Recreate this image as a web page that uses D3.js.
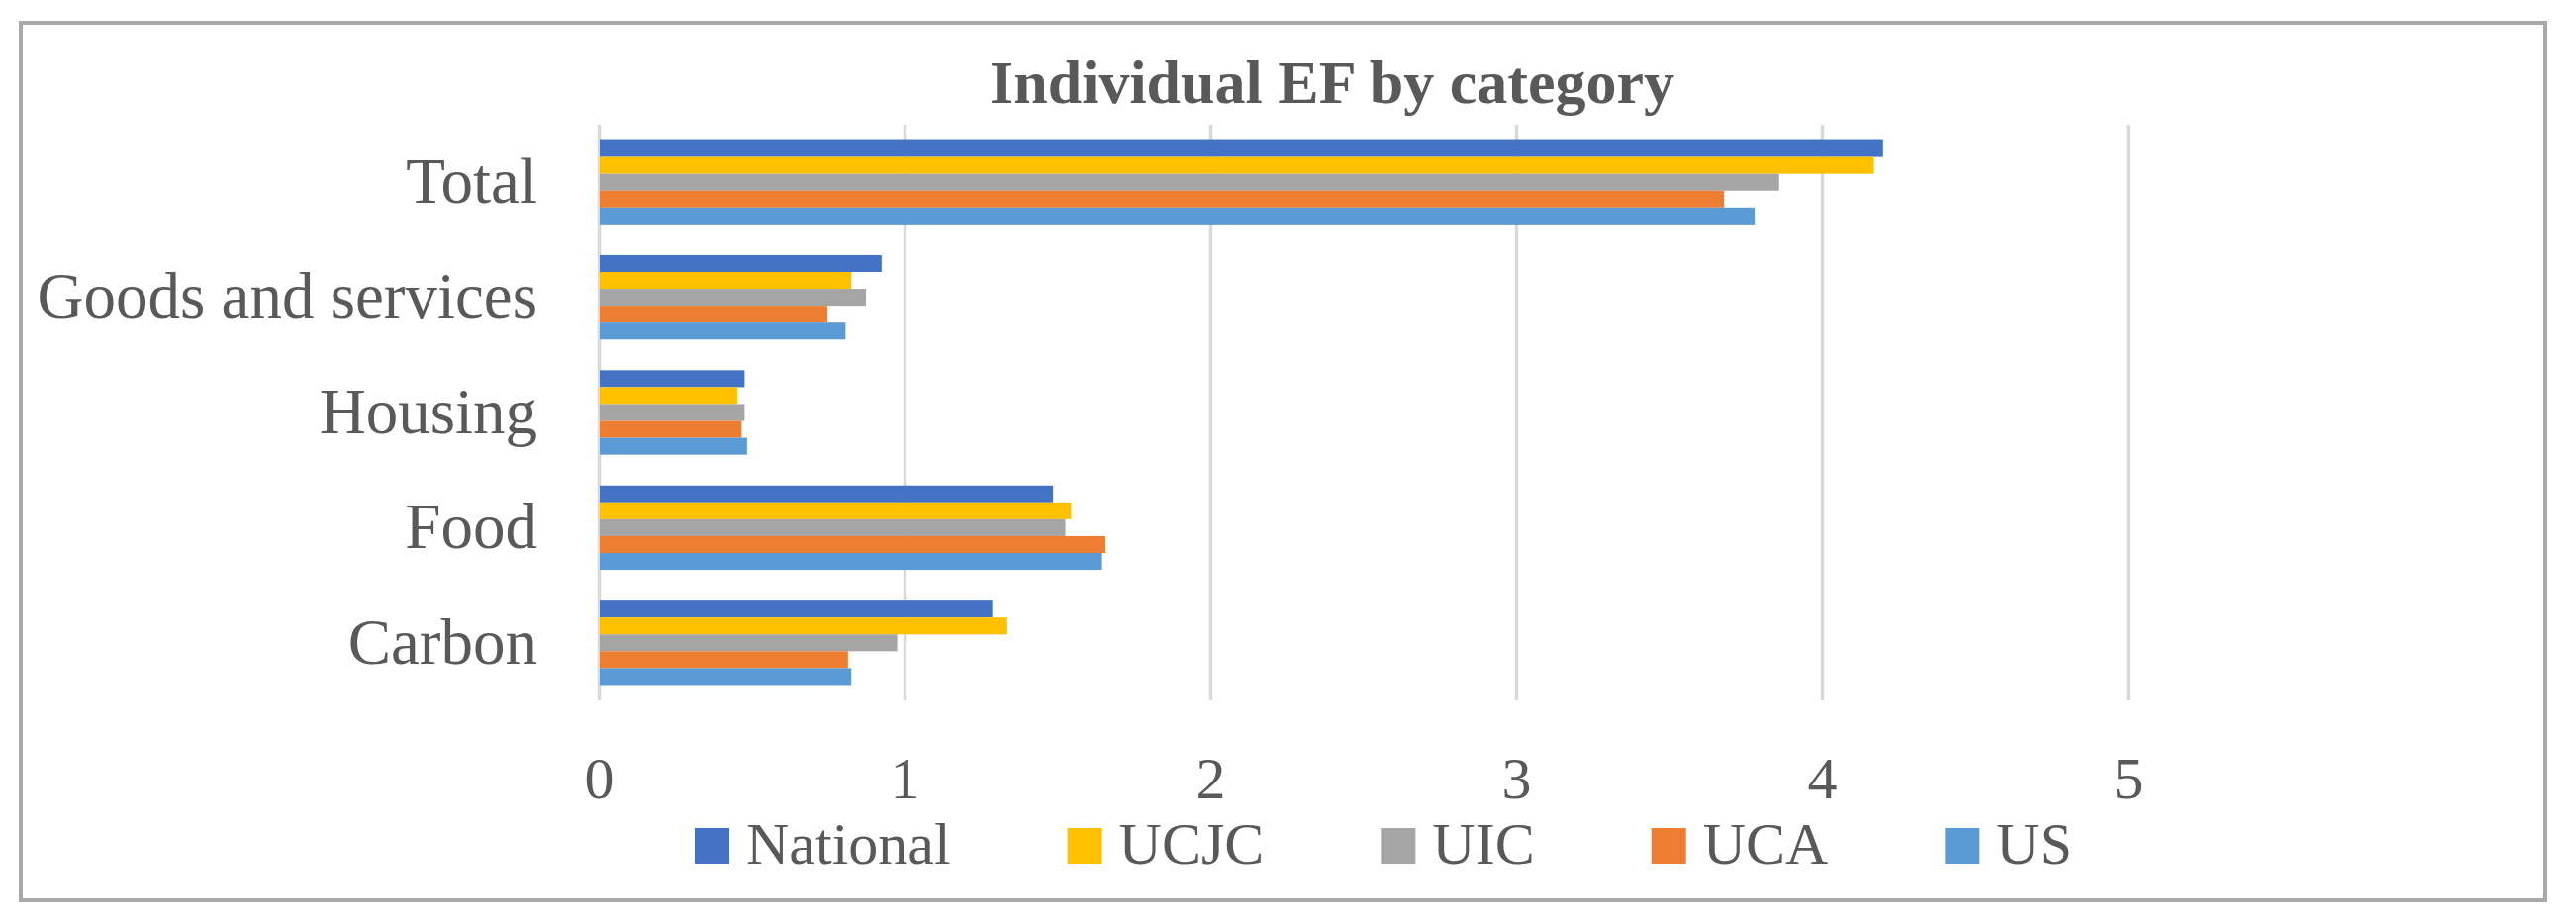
<!DOCTYPE html>
<html>
<head>
<meta charset="utf-8">
<script src="https://cdn.jsdelivr.net/npm/d3@7"></script>
<style>
  body { margin: 0; background: #fff; }
  text { font-family: 'Liberation Serif', 'Times New Roman', serif; fill: #595959; }
</style>
</head>
<body>
<div id="container"></div>
<script>
// chart data
const categories = ['Total', 'Goods and services', 'Housing', 'Food', 'Carbon'];
const seriesNames = ['National', 'UCJC', 'UIC', 'UCA', 'US'];
const national = [4.20, 0.925, 0.477, 1.486, 1.287];
const ucjc = [4.17, 0.826, 0.453, 1.545, 1.336];
const uic = [3.86, 0.874, 0.477, 1.526, 0.976];
const uca = [3.68, 0.748, 0.467, 1.657, 0.815];
const us = [3.78, 0.807, 0.485, 1.646, 0.826];
const xTicks = [0, 1, 2, 3, 4, 5];

const colors = ['#4472C4', '#FFC000', '#A5A5A5', '#ED7D31', '#5B9BD5'];
const seriesValues = [national, ucjc, uic, uca, us];

// build rows for drawing
const dataset = [];
categories.forEach((cat, i) => {
    seriesNames.forEach((s, j) => {
        dataset.push({ category: cat, series: s, value: seriesValues[j][i], color: colors[j] });
    });
});

// chart dimensions
const width = 2603;
const height = 930;
const plotLeft = 605;
const plotTop = 126;
const plotBottom = 708;

const svg = d3.select('#container')
    .append('svg')
    .attr('width', width)
    .attr('height', height);

// outer chart border
svg.append('rect')
    .attr('x', 21)
    .attr('y', 23)
    .attr('width', 2551)
    .attr('height', 887)
    .style('fill', '#fff')
    .style('stroke', '#A9A9A9')
    .style('stroke-width', 4);

// scales
const xScale = d3.scaleLinear()
    .domain([0, 5])
    .range([plotLeft, 2150]);

const yScale = d3.scaleBand()
    .domain(categories)
    .range([plotTop, plotBottom])
    .paddingInner(0.267)
    .paddingOuter(0.1335);

const ySub = d3.scaleBand()
    .domain(seriesNames)
    .range([0, yScale.bandwidth()]);

// gridlines
const grid = svg.append('g')
    .attr('transform', `translate(0, ${plotBottom})`)
    .call(d3.axisBottom(xScale).tickValues(xTicks).tickSize(-(plotBottom - plotTop)).tickFormat(''));
grid.select('.domain').remove();
grid.selectAll('line').style('stroke', '#D9D9D9').style('stroke-width', 3.5);

// bars
svg.selectAll('rect.bar')
    .data(dataset)
    .enter()
    .append('rect')
    .attr('class', 'bar')
    .attr('x', xScale(0) + 1)
    .attr('y', (d) => yScale(d.category) + ySub(d.series))
    .attr('width', (d) => xScale(d.value) - xScale(0) - 1)
    .attr('height', ySub.bandwidth())
    .style('fill', (d) => d.color);

// x axis labels
const xAxis = svg.append('g')
    .attr('transform', `translate(0, ${plotBottom})`)
    .call(d3.axisBottom(xScale).tickValues(xTicks).tickSize(0).tickFormat(d3.format('d')));
xAxis.select('.domain').remove();
xAxis.selectAll('text')
    .attr('y', 99)
    .attr('dy', 0)
    .style('font-size', '60px')
    .style('font-family', "'Liberation Serif', serif")
    .style('fill', '#595959');

// y axis labels
const yAxis = svg.append('g')
    .attr('transform', `translate(${plotLeft}, 0)`)
    .call(d3.axisLeft(yScale).tickSize(0).tickPadding(62));
yAxis.select('.domain').remove();
yAxis.selectAll('text')
    .style('font-size', '65px')
    .style('font-family', "'Liberation Serif', serif")
    .style('fill', '#595959');

// title
svg.append('text')
    .attr('x', 1346)
    .attr('y', 104)
    .attr('text-anchor', 'middle')
    .style('font-size', '62px')
    .style('font-weight', 'bold')
    .text('Individual EF by category');

// legend
const legend = svg.append('g').attr('id', 'legend');
let lx = 702;
seriesNames.forEach((s, j) => {
    legend.append('rect')
        .attr('x', lx)
        .attr('y', 837)
        .attr('width', 35)
        .attr('height', 36)
        .style('fill', colors[j]);
    const t = legend.append('text')
        .attr('x', lx + 52)
        .attr('y', 873)
        .style('font-size', '60px')
        .text(s);
    lx += 52 + t.node().getComputedTextLength() + 118;
});
</script>
</body>
</html>
